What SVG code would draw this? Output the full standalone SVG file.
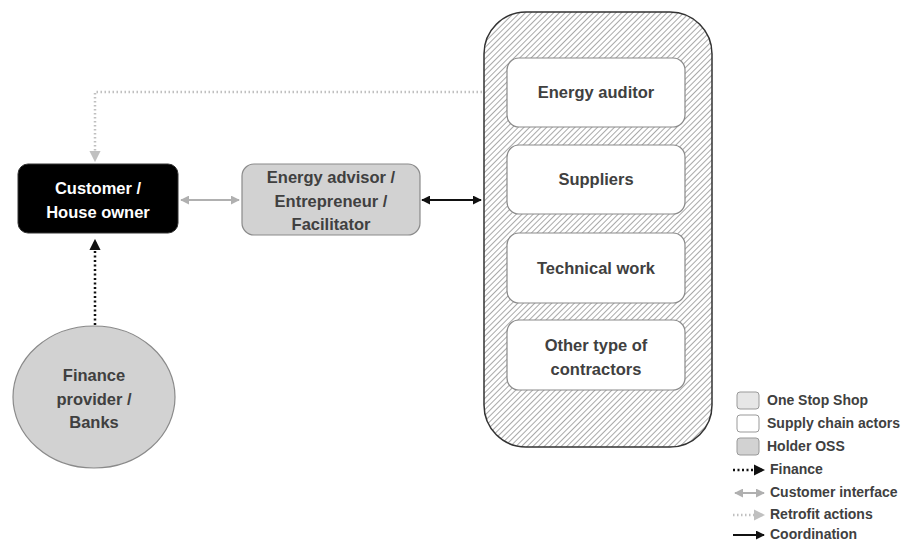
<svg xmlns="http://www.w3.org/2000/svg" width="909" height="543" viewBox="0 0 909 543">
  <style>
    text { font-family: "Liberation Sans", Arial, sans-serif; font-weight: bold; text-anchor: middle; }
    .lbl { font-size: 16.5px; fill: #404040; }
    .leg { font-size: 14px; fill: #404040; text-anchor: start; }
    .actor { fill: #ffffff; stroke: #8a8a8a; stroke-width: 1.2; }
    .holder { fill: #d2d2d2; stroke: #8a8a8a; stroke-width: 1.2; }
  </style>
  <defs>
    <pattern id="hatch" patternUnits="userSpaceOnUse" width="4" height="4" patternTransform="rotate(45)">
      <rect width="4" height="4" fill="#ffffff"/>
      <line x1="0" y1="0" x2="0" y2="4" stroke="#8c8c8c" stroke-width="1.5"/>
    </pattern>
    <marker id="ahBlack" viewBox="0 0 10 10" refX="9" refY="5" markerWidth="4.5" markerHeight="4.5" orient="auto-start-reverse">
      <path d="M0,0 L10,5 L0,10 z" fill="#111"/>
    </marker>
    <marker id="ahGray" viewBox="0 0 10 10" refX="9" refY="5" markerWidth="4.5" markerHeight="4.5" orient="auto-start-reverse">
      <path d="M0,0 L10,5 L0,10 z" fill="#b0b0b0"/>
    </marker>
    <marker id="ahLight" viewBox="0 0 10 10" refX="9" refY="5" markerWidth="4.5" markerHeight="4.5" orient="auto-start-reverse">
      <path d="M0,0 L10,5 L0,10 z" fill="#c0c0c0"/>
    </marker>
  </defs>

  <!-- connectors -->
  <g id="connectors" fill="none">
    <path d="M482,92 H95 V161" stroke="#c0c0c0" stroke-width="2.5" stroke-dasharray="1.5 2.5" marker-end="url(#ahLight)"/>
    <path d="M95,325 V240" stroke="#111" stroke-width="2.5" stroke-dasharray="2 2.5" marker-end="url(#ahBlack)"/>
    <path d="M181,200 H239" stroke="#b0b0b0" stroke-width="2" marker-start="url(#ahGray)" marker-end="url(#ahGray)"/>
    <path d="M422,200 H481" stroke="#111" stroke-width="2" marker-start="url(#ahBlack)" marker-end="url(#ahBlack)"/>
  </g>

  <!-- one stop shop container -->
  <g id="oss">
    <rect x="484" y="12" width="228" height="435" rx="42" fill="url(#hatch)" stroke="#333" stroke-width="1.5"/>
  </g>

  <g id="energy-auditor">
    <rect class="actor" x="507" y="58" width="178" height="69" rx="12"/>
    <text class="lbl" x="596" y="98">Energy auditor</text>
  </g>
  <g id="suppliers">
    <rect class="actor" x="507" y="145" width="178" height="69" rx="12"/>
    <text class="lbl" x="596" y="185">Suppliers</text>
  </g>
  <g id="technical-work">
    <rect class="actor" x="507" y="233" width="178" height="70" rx="12"/>
    <text class="lbl" x="596" y="274">Technical work</text>
  </g>
  <g id="other-contractors">
    <rect class="actor" x="507" y="320" width="178" height="70" rx="12"/>
    <text class="lbl" x="596" y="351">Other type of</text>
    <text class="lbl" x="596" y="375">contractors</text>
  </g>

  <g id="customer">
    <rect x="18" y="164" width="160" height="69" rx="10" fill="#000" stroke="#333" stroke-width="1"/>
    <text class="lbl" x="98" y="194" style="fill:#ffffff">Customer /</text>
    <text class="lbl" x="98" y="218" style="fill:#ffffff">House owner</text>
  </g>

  <g id="energy-advisor">
    <rect class="holder" x="242" y="164" width="178" height="71" rx="12"/>
    <text class="lbl" x="331" y="183">Energy advisor /</text>
    <text class="lbl" x="331" y="207">Entrepreneur /</text>
    <text class="lbl" x="331" y="230">Facilitator</text>
  </g>

  <g id="finance-provider">
    <ellipse cx="94" cy="397" rx="81" ry="71" fill="#d2d2d2" stroke="#8a8a8a" stroke-width="1.2"/>
    <text class="lbl" x="94" y="381">Finance</text>
    <text class="lbl" x="94" y="405">provider /</text>
    <text class="lbl" x="94" y="428">Banks</text>
  </g>

  <!-- legend -->
  <g id="legend">
    <rect x="737" y="392" width="22" height="17" rx="3" fill="#e6e6e6" stroke="#999" stroke-width="1"/>
    <text class="leg" x="767" y="405">One Stop Shop</text>
    <rect x="737" y="415" width="22" height="17" rx="3" fill="#fff" stroke="#999" stroke-width="1"/>
    <text class="leg" x="767" y="428">Supply chain actors</text>
    <rect x="737" y="438" width="22" height="17" rx="3" fill="#d2d2d2" stroke="#999" stroke-width="1"/>
    <text class="leg" x="767" y="451">Holder OSS</text>

    <path d="M733,470 H764" stroke="#111" stroke-width="2.5" stroke-dasharray="2 2.5" fill="none" marker-end="url(#ahBlack)"/>
    <text class="leg" x="770" y="474">Finance</text>
    <path d="M735,493 H764" stroke="#b0b0b0" stroke-width="2" fill="none" marker-start="url(#ahGray)" marker-end="url(#ahGray)"/>
    <text class="leg" x="770" y="497">Customer interface</text>
    <path d="M733,515 H764" stroke="#c0c0c0" stroke-width="2.5" stroke-dasharray="1.5 2.5" fill="none" marker-end="url(#ahLight)"/>
    <text class="leg" x="770" y="519">Retrofit actions</text>
    <path d="M733,535 H764" stroke="#111" stroke-width="2" fill="none" marker-end="url(#ahBlack)"/>
    <text class="leg" x="770" y="539">Coordination</text>
  </g>
</svg>
